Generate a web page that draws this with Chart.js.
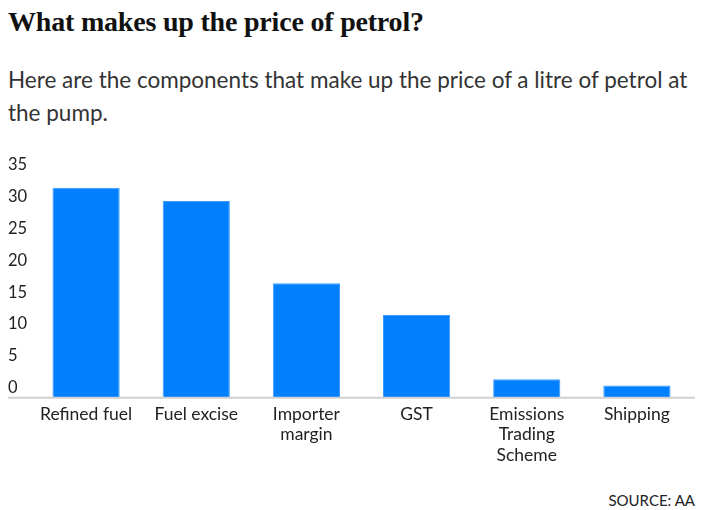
<!DOCTYPE html>
<html>
<head>
<meta charset="utf-8">
<script src="https://cdn.jsdelivr.net/npm/chart.js@4"></script>
<style>
  body { margin: 0; background: #fff; width: 709px; height: 510px; position: relative; overflow: hidden; }
  .title { position: absolute; left: 8px; top: 6px; font: bold 28px "Liberation Serif", serif; color: #111; letter-spacing: -0.2px; }
  .sub { position: absolute; left: 8px; top: 63px; width: 705px; font: 22.5px Lato, sans-serif; color: #333; line-height: 33px; white-space: nowrap; }
  .src { position: absolute; right: 14px; top: 491px; font: 15px Lato, sans-serif; color: #222; }
  #wrap { position: absolute; left: 0; top: 140px; width: 709px; height: 332px; }
</style>
</head>
<body>
<div class="title">What makes up the price of petrol?</div>
<div class="sub">Here are the components that make up the price of a litre of petrol at<br>the pump.</div>
<div id="wrap"><canvas id="chart"></canvas></div>
<div class="src">SOURCE: AA</div>
<script>
const categories = ["Refined fuel", "Fuel excise", ["Importer", "margin"], "GST", ["Emissions", "Trading", "Scheme"], "Shipping"];
const shares = [33.0, 30.9, 18.0, 13.0, 2.9, 1.9];
const yTicks = [0, 5, 10, 15, 20, 25, 30, 35];

// baseline at zero, running under the tick labels too
const baseline = {
  id: 'baseline',
  afterDraw(chart) {
    const c = chart.ctx;
    const y = chart.scales.y.getPixelForValue(0);
    c.save();
    c.strokeStyle = '#d0d0d0';
    c.lineWidth = 2;
    c.beginPath();
    c.moveTo(8, y);
    c.lineTo(chart.chartArea.right + 3, y);
    c.stroke();
    c.restore();
  }
};

new Chart(document.getElementById('chart'), {
  type: 'bar',
  data: {
    labels: categories,
    datasets: [{
      data: shares,
      backgroundColor: '#0080ff',
      borderColor: '#3d9bff',
      borderWidth: 1,
      categoryPercentage: 1,
      barPercentage: 0.61
    }]
  },
  options: {
    responsive: true,
    maintainAspectRatio: false,
    animation: false,
    layout: { padding: { left: 8, right: 17, top: 35, bottom: 0 } },
    plugins: { legend: { display: false }, tooltip: { enabled: false } },
    scales: {
      x: {
        grid: { display: false, drawTicks: false },
        border: { display: false },
        ticks: { color: '#222', font: { family: 'Lato', size: 17.5, lineHeight: 1.15 }, padding: 7, maxRotation: 0, autoSkip: false }
      },
      y: {
        min: 0, max: 35,
        afterBuildTicks: s => { s.ticks = yTicks.map(v => ({ value: v })); },
        afterFit: s => { s.width = 23; },
        grid: { display: false, drawTicks: false },
        border: { display: false },
        ticks: { color: '#222', font: { family: 'Lato', size: 16.5 }, crossAlign: 'far', labelOffset: -10, padding: 0 }
      }
    }
  },
  plugins: [baseline]
});
</script>
</body>
</html>
